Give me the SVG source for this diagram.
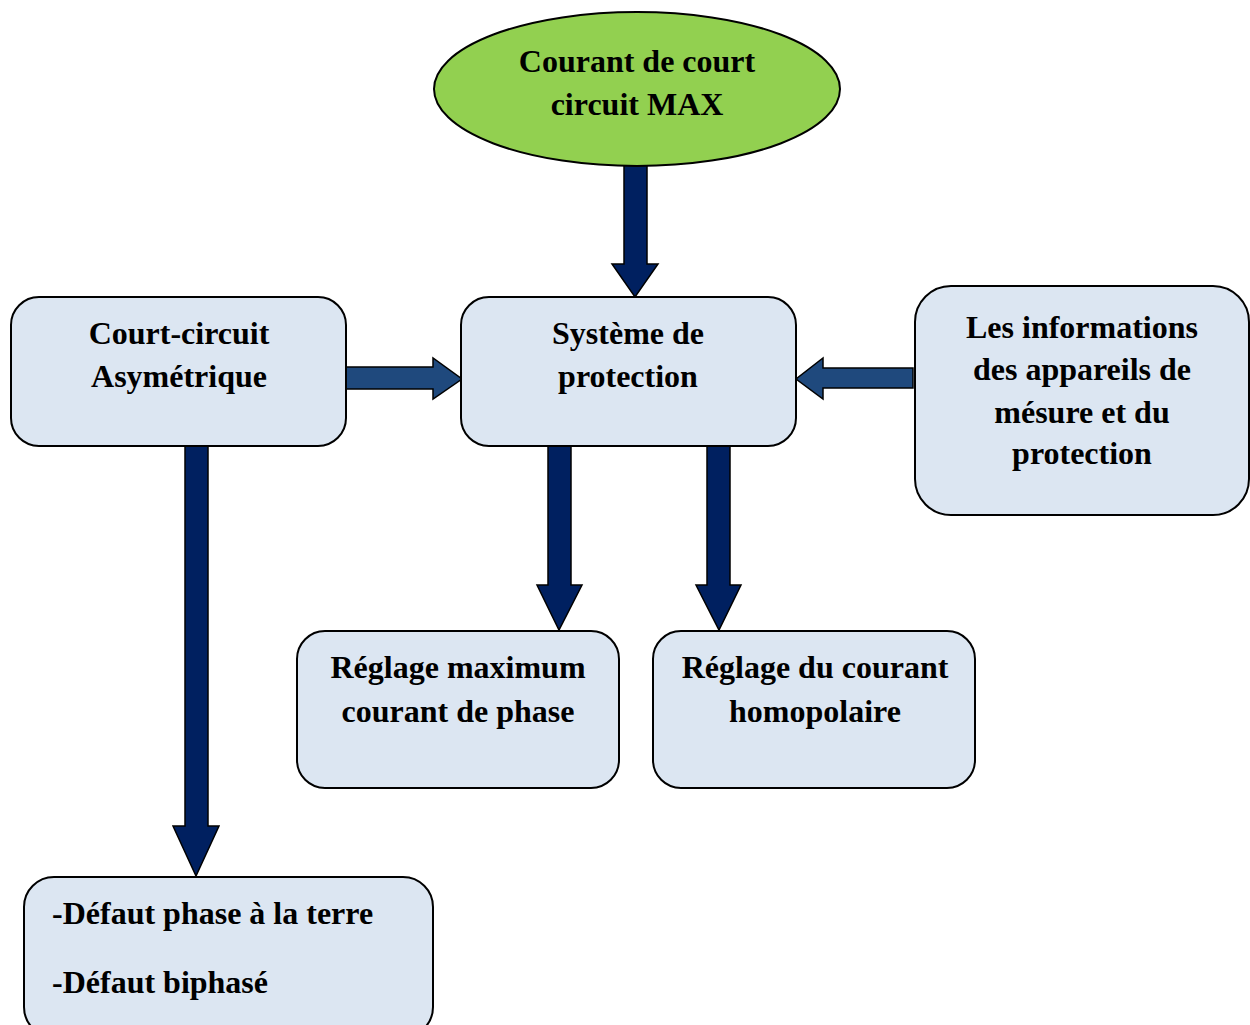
<svg xmlns="http://www.w3.org/2000/svg" width="1250" height="1025" viewBox="0 0 1250 1025">
  <style>
    .box { fill: #dce6f2; stroke: #000; stroke-width: 2; }
    .oval { fill: #92d050; stroke: #000; stroke-width: 2; }
    .lbl { font-family: "Liberation Serif", "Times New Roman", serif; font-weight: bold; font-size: 32px; fill: #000; text-anchor: middle; }
    .lbl-l { text-anchor: start; }
    .dn { fill: #002060; stroke: #000; stroke-width: 1.5; }
    .hz { fill: #1f497d; stroke: #000; stroke-width: 1.5; }
  </style>
  <rect width="1250" height="1025" fill="#fff"/>

  <g id="connectors">
    <!-- ellipse to protection system -->
    <polygon class="dn" points="624,165 647,165 647,264 658,264 635,297 612,264 624,264"/>
    <!-- asymmetric short-circuit to protection system -->
    <polygon class="hz" points="346,367 433,367 433,358 462,379 433,399 433,389 346,389"/>
    <!-- measurement info to protection system -->
    <polygon class="hz" points="913,368 823,368 823,358 796,379 823,399 823,388 913,388"/>
    <!-- protection system to phase setting -->
    <polygon class="dn" points="548,446 571,446 571,585 582,585 559,630 537,585 548,585"/>
    <!-- protection system to residual current setting -->
    <polygon class="dn" points="707,446 730,446 730,585 741,585 719,630 696,585 707,585"/>
    <!-- asymmetric short-circuit to fault list -->
    <polygon class="dn" points="185,446 208,446 208,826 219,826 196,876 173,826 185,826"/>
  </g>

  <g id="node-courant-max">
    <ellipse class="oval" cx="637" cy="89" rx="203" ry="77"/>
    <text class="lbl" x="637" y="72">Courant de court</text>
    <text class="lbl" x="637" y="115">circuit MAX</text>
  </g>

  <g id="node-court-circuit">
    <rect class="box" x="11" y="297" width="335" height="149" rx="28"/>
    <text class="lbl" x="179" y="344">Court-circuit</text>
    <text class="lbl" x="179" y="387">Asymétrique</text>
  </g>

  <g id="node-systeme">
    <rect class="box" x="461" y="297" width="335" height="149" rx="28"/>
    <text class="lbl" x="628" y="344">Système de</text>
    <text class="lbl" x="628" y="387">protection</text>
  </g>

  <g id="node-informations">
    <rect class="box" x="915" y="286" width="334" height="229" rx="36"/>
    <text class="lbl" x="1082" y="338">Les informations</text>
    <text class="lbl" x="1082" y="380">des appareils de</text>
    <text class="lbl" x="1082" y="423">mésure et du</text>
    <text class="lbl" x="1082" y="464">protection</text>
  </g>

  <g id="node-reglage-phase">
    <rect class="box" x="297" y="631" width="322" height="157" rx="28"/>
    <text class="lbl" x="458" y="678">Réglage maximum</text>
    <text class="lbl" x="458" y="722">courant de phase</text>
  </g>

  <g id="node-reglage-homopolaire">
    <rect class="box" x="653" y="631" width="322" height="157" rx="28"/>
    <text class="lbl" x="815" y="678">Réglage du courant</text>
    <text class="lbl" x="815" y="722">homopolaire</text>
  </g>

  <g id="node-defauts">
    <rect class="box" x="24" y="877" width="409" height="160" rx="30"/>
    <text class="lbl lbl-l" x="52" y="924">-Défaut phase à la terre</text>
    <text class="lbl lbl-l" x="52" y="993">-Défaut biphasé</text>
  </g>
</svg>
